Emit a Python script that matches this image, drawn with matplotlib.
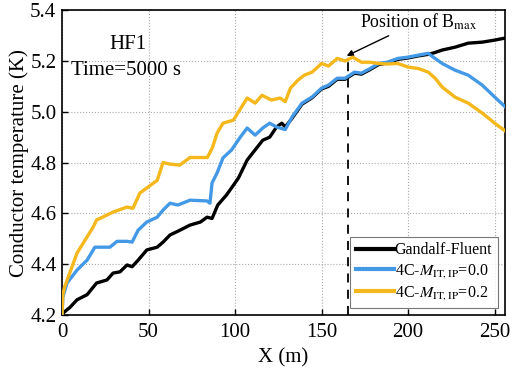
import matplotlib
matplotlib.use("Agg")
import matplotlib.pyplot as plt

plt.rcParams['font.family'] = ['Liberation Serif', 'DejaVu Serif']
plt.rcParams['mathtext.fontset'] = 'stix'

# Gandalf-Fluent
x_gf = [0, 1, 4.6, 8.7, 14.5, 20, 26, 29.5, 33.5, 37.6, 40.5, 44, 49, 55, 58.4, 62.4, 67, 74, 80,
        83.8, 86.7, 90, 95, 100, 102, 107, 111.6, 116, 120, 124, 127, 129, 133, 138.7, 144.5,
        150, 154, 159, 163.6, 169, 173, 178, 183, 188, 194, 200, 206, 211.6, 215, 219.7, 227,
        234.7, 242.8, 250, 256]
y_gf = [4.20, 4.21, 4.23, 4.26, 4.28, 4.326, 4.338, 4.365, 4.37, 4.397, 4.39, 4.416, 4.456, 4.467,
        4.487, 4.515, 4.53, 4.554, 4.566, 4.585, 4.58, 4.633, 4.672, 4.72, 4.74, 4.81, 4.85, 4.888,
        4.90, 4.94, 4.955, 4.94, 4.975, 5.03, 5.055, 5.09, 5.10, 5.128, 5.128, 5.152, 5.148, 5.166,
        5.186, 5.192, 5.206, 5.212, 5.22, 5.226, 5.232, 5.243, 5.254, 5.27, 5.274, 5.282, 5.29]

# 4C M=0.0
x_b = [0, 0.5, 2.9, 8.7, 14.5, 19, 23.7, 27.7, 31.8, 37.6, 40.5, 44, 49, 55, 58.4, 62.4, 67, 74,
       83.8, 85.5, 86.7, 89.6, 93, 98, 103, 107, 111.6, 116, 120, 124, 129, 133, 138.7, 144.5,
       150, 154, 159, 163.6, 169, 173, 178, 183, 188, 194, 200, 206, 211.6, 214.5, 219.7, 227,
       234.7, 242.8, 250, 256]
y_b = [4.20, 4.27, 4.326, 4.377, 4.416, 4.467, 4.467, 4.467, 4.49, 4.49, 4.487, 4.534, 4.566,
       4.585, 4.613, 4.64, 4.633, 4.652, 4.649, 4.64, 4.72, 4.759, 4.818, 4.85, 4.90, 4.936, 4.908,
       4.936, 4.955, 4.94, 4.93, 4.98, 5.034, 5.058, 5.093, 5.105, 5.132, 5.132, 5.156, 5.152,
       5.17, 5.19, 5.195, 5.21, 5.215, 5.223, 5.23, 5.215, 5.19, 5.164, 5.144, 5.105, 5.058, 5.02]

# 4C M=0.2
x_y = [0, 0.5, 1.5, 8.7, 18, 20, 29.5, 37.5, 41, 45, 55, 58.4, 62.4, 68, 74, 84, 87, 89.6, 93,
       99, 107, 111.6, 115.6, 121, 126, 129, 132, 136.4, 140, 144.5, 150, 154, 159, 163.6, 168,
       173, 178, 183, 188, 194, 200, 206, 211.6, 215.6, 219.7, 227, 234.7, 242.8, 250, 256]
y_y = [4.20, 4.28, 4.31, 4.444, 4.546, 4.574, 4.605, 4.625, 4.62, 4.68, 4.73, 4.80, 4.794, 4.79,
       4.82, 4.82, 4.86, 4.916, 4.955, 4.967, 5.054, 5.034, 5.065, 5.046, 5.054, 5.04, 5.093,
       5.125, 5.144, 5.156, 5.19, 5.18, 5.21, 5.20, 5.215, 5.195, 5.195, 5.19, 5.188, 5.19,
       5.176, 5.17, 5.156, 5.132, 5.097, 5.058, 5.034, 4.995, 4.955, 4.925]

labels = ['Gandalf-Fluent', r'4C-$M_{\mathrm{IT,IP}}$=0.0', r'4C-$M_{\mathrm{IT,IP}}$=0.2']
colors = ['#000000', '#4499e6', '#f5b81c']
x_bmax = 165

fig = plt.figure(figsize=(5.14, 3.70), dpi=100)
ax = fig.add_axes([0.1206, 0.1486, 0.862, 0.824])

ax.plot(x_gf, y_gf, color=colors[0], lw=2.4, label=labels[0], zorder=3)
ax.plot(x_b, y_b, color=colors[1], lw=2.4, label=labels[1], zorder=4)
ax.plot(x_y, y_y, color=colors[2], lw=2.4, label=labels[2], zorder=5)

ax.plot([x_bmax, x_bmax], [4.2, 5.195], color='black', ls=(0, (5, 4)), lw=1.3, zorder=2)
ax.annotate('Position of B$_{\\mathrm{max}}$', xy=(x_bmax - 0.5, 5.22), xytext=(172, 5.355),
            fontsize=12.8, ha='left', va='center',
            arrowprops=dict(arrowstyle='-|>', color='black', lw=1.0, mutation_scale=9,
                            shrinkA=2, shrinkB=0))

ax.text(38, 5.265, 'HF1', fontsize=15, ha='center', va='center')
ax.text(5, 5.163, 'Time=5000 s', fontsize=15, ha='left', va='center')

ax.set_xlim(0, 256)
ax.set_ylim(4.2, 5.4)
ax.set_xticks([0, 50, 100, 150, 200, 250])
ax.set_yticks([4.2, 4.4, 4.6, 4.8, 5.0, 5.2, 5.4])
ax.set_yticklabels(['4.2', '4.4', '4.6', '4.8', '5.0', '5.2', '5.4'])
ax.tick_params(direction='in', length=4, width=1, labelsize=15)
ax.tick_params(axis='x', pad=6)
ax.tick_params(axis='y', pad=4)
ax.grid(True, color='#aaaaaa', ls=':', lw=0.8)
ax.set_axisbelow(True)
for s in ax.spines.values():
    s.set_linewidth(1.2)

ax.set_xlabel('X (m)', fontsize=15, labelpad=4)
ax.set_ylabel('Conductor temperature (K)', fontsize=15, labelpad=1)

leg = ax.legend(loc='lower right', fontsize=11.5, frameon=True, fancybox=False,
                edgecolor='#555555', handlelength=2.4, handletextpad=0.05,
                borderpad=0.35, labelspacing=0.25, borderaxespad=0.45)
leg.get_frame().set_linewidth(0.8)
for l in leg.get_lines():
    l.set_linewidth(3)

fig.savefig('out.png', dpi=100)
